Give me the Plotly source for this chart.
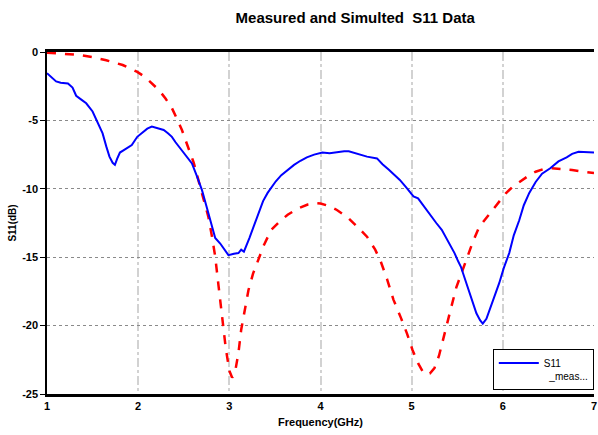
import plotly.graph_objects as go

# Measured S11 (blue)
meas_freq = [1.00, 1.05, 1.10, 1.15, 1.23, 1.28, 1.32, 1.38, 1.43, 1.50, 1.56, 1.61, 1.65, 1.685, 1.72, 1.745,
             1.77, 1.80, 1.86, 1.93, 1.99, 2.05, 2.10, 2.15, 2.22, 2.28, 2.33, 2.37, 2.41, 2.45, 2.50, 2.55,
             2.59, 2.64, 2.70, 2.75, 2.80, 2.845, 2.90, 2.95, 2.99, 3.05, 3.10, 3.13, 3.16, 3.22, 3.27, 3.315,
             3.37, 3.42, 3.47, 3.51, 3.57, 3.64, 3.71, 3.78, 3.85, 3.93, 4.02, 4.10, 4.18, 4.26, 4.31, 4.38,
             4.45, 4.51, 4.62, 4.68, 4.75, 4.81, 4.87, 4.94, 5.02, 5.07, 5.145, 5.20, 5.27, 5.33, 5.38, 5.43,
             5.47, 5.51, 5.54, 5.58, 5.62, 5.67, 5.71, 5.75, 5.78, 5.82, 5.87, 5.91, 5.96, 6.01, 6.07, 6.12,
             6.18, 6.23, 6.29, 6.36, 6.43, 6.52, 6.61, 6.70, 6.76, 6.83, 6.92, 7.00]
meas_s11 = [-1.55, -1.85, -2.15, -2.25, -2.3, -2.6, -3.2, -3.5, -3.75, -4.35, -5.2, -5.95, -6.9, -7.65, -8.1, -8.25,
            -7.8, -7.35, -7.1, -6.8, -6.2, -5.9, -5.6, -5.45, -5.6, -5.7, -5.95, -6.2, -6.6, -6.95, -7.4, -7.8,
            -8.15, -9.0, -10.1, -11.3, -12.6, -13.6, -14.0, -14.5, -14.85, -14.75, -14.7, -14.45, -14.6, -13.6, -12.7, -11.8,
            -10.9, -10.3, -9.8, -9.45, -9.0, -8.6, -8.25, -7.95, -7.7, -7.5, -7.35, -7.4, -7.3, -7.25, -7.25, -7.4,
            -7.5, -7.65, -7.78, -8.2, -8.6, -9.0, -9.35, -9.9, -10.55, -10.7, -11.4, -11.9, -12.5, -13.0, -13.6, -14.2,
            -14.7, -15.3, -15.7, -16.5, -17.3, -18.2, -19.1, -19.6, -19.85, -19.5, -18.6, -17.9, -16.9, -15.8, -14.7, -13.4,
            -12.3, -11.2, -10.3, -9.5, -8.9, -8.5, -8.0, -7.7, -7.45, -7.3, -7.3, -7.35]

# Simulated S11 (red dashed)
sim_freq = [1.00, 1.15, 1.36, 1.50, 1.65, 1.83, 1.99, 2.08, 2.15, 2.23, 2.30, 2.37, 2.43, 2.48, 2.52, 2.57,
            2.61, 2.68, 2.72, 2.77, 2.81, 2.845, 2.88, 2.92, 2.96, 3.00, 3.03, 3.06, 3.10, 3.13, 3.17, 3.21,
            3.26, 3.315, 3.38, 3.46, 3.55, 3.64, 3.75, 3.86, 3.95, 4.00, 4.09, 4.18, 4.30, 4.40, 4.51, 4.60,
            4.66, 4.73, 4.80, 4.88, 4.95, 5.01, 5.07, 5.12, 5.16, 5.20, 5.25, 5.30, 5.34, 5.38, 5.44, 5.49,
            5.55, 5.60, 5.67, 5.74, 5.82, 5.89, 5.96, 6.03, 6.10, 6.18, 6.27, 6.36, 6.45, 6.54, 6.65, 6.76,
            6.88, 7.00]
sim_s11 = [-0.05, -0.1, -0.22, -0.38, -0.6, -0.95, -1.45, -1.85, -2.3, -2.8, -3.4, -4.1, -4.95, -5.7, -6.45, -7.3,
           -8.1, -9.85, -10.9, -12.05, -13.5, -14.95, -17.0, -19.3, -21.6, -23.3, -23.8, -23.5, -22.0, -20.3, -18.7, -17.4,
           -16.2, -15.2, -14.1, -13.0, -12.4, -11.9, -11.45, -11.15, -11.05, -11.07, -11.25, -11.55, -12.1, -12.75, -13.5, -14.45,
           -15.3, -16.6, -18.1, -19.4, -20.6, -21.8, -22.75, -23.35, -23.6, -23.5, -23.1, -22.2, -21.2, -20.1, -18.5, -17.2,
           -16.1, -15.2, -13.9, -12.8, -12.1, -11.55, -10.9, -10.35, -9.9, -9.5, -9.1, -8.75, -8.55, -8.5, -8.55, -8.63,
           -8.75, -8.85]

x_ticks = [1, 2, 3, 4, 5, 6, 7]
y_ticks = [0, -5, -10, -15, -20, -25]

FONT = "Liberation Sans"

fig = go.Figure()
fig.add_trace(go.Scatter(x=sim_freq, y=sim_s11, mode="lines", name="sim",
                         line=dict(color="#ff0000", width=2.5, dash="dash"), showlegend=False))
fig.add_trace(go.Scatter(x=meas_freq, y=meas_s11, mode="lines", name="S11<br>  _meas...",
                         line=dict(color="#0000ff", width=2)))

fig.update_layout(
    width=598, height=435,
    margin=dict(l=47, r=4, t=52, b=41, autoexpand=False),
    paper_bgcolor="white", plot_bgcolor="white",
    font=dict(family=FONT, color="black"),
    title=dict(text="Measured and Simulted  S11 Data", x=0.594, xanchor="center",
               y=0.959, yanchor="middle",
               font=dict(family=FONT, size=15, weight="bold", color="black")),
    legend=dict(x=0.815, y=0.012, xanchor="left", yanchor="bottom",
                bgcolor="white", bordercolor="black", borderwidth=1,
                font=dict(family=FONT, size=10, color="black"),
                valign="top", tracegroupgap=0, itemwidth=40),
    showlegend=True,
)
fig.update_xaxes(
    range=[1, 7], tickvals=x_ticks, ticktext=[str(v) for v in x_ticks],
    ticklabeloverflow="allow", automargin=False,
    showline=True, linecolor="black", linewidth=2.5, mirror=True,
    showgrid=True, gridcolor="#d2d2d2", gridwidth=1.5, griddash="dashdot",
    ticks="", zeroline=False,
    tickfont=dict(family=FONT, size=11, weight="bold"),
    title=dict(text="Frequency(GHz)", standoff=8, font=dict(family=FONT, size=11, weight="bold")),
)
fig.update_yaxes(
    range=[-25, 0], tickvals=y_ticks, ticktext=[str(v) for v in y_ticks],
    automargin=False,
    showline=True, linecolor="black", linewidth=1.5,
    showgrid=True, gridcolor="#8a8a8a", gridwidth=1, griddash="dot",
    ticks="outside", ticklen=5, tickcolor="black", zeroline=False,
    tickfont=dict(family=FONT, size=11, weight="bold"),
    title=dict(text="S11(dB)", standoff=4, font=dict(family=FONT, size=10, weight="bold")),
)

fig.write_html("out.html")
